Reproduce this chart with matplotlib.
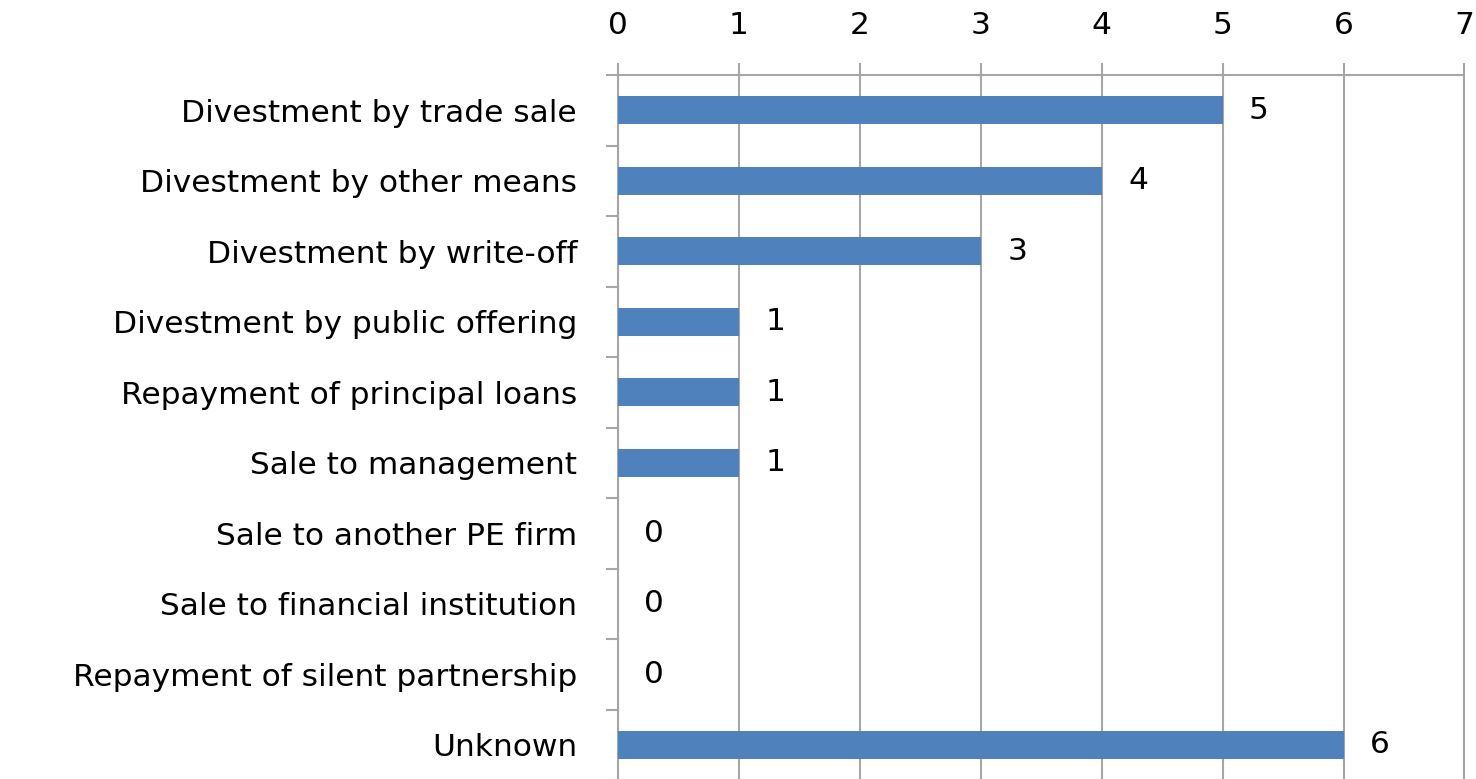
import numpy as np
import matplotlib.pyplot as plt
from matplotlib.ticker import FixedLocator

# exit routes and number of cases
categories = ["Divestment by trade sale", "Divestment by other means",
              "Divestment by write-off", "Divestment by public offering",
              "Repayment of principal loans", "Sale to management",
              "Sale to another PE firm", "Sale to financial institution",
              "Repayment of silent partnership", "Unknown"]
counts = [5, 4, 3, 1, 1, 1, 0, 0, 0, 6]
x_ticks = [0, 1, 2, 3, 4, 5, 6, 7]

bar_color = "#4F81BD"
grid_color = "#A6A6A6"
fs = 22.5

fig = plt.figure(figsize=(14.76, 7.79), dpi=100)
ax = fig.add_axes([0.4187, -0.0013, 0.5735, 0.905])

y = np.arange(len(categories))
ax.barh(y, counts, height=0.4, color=bar_color, zorder=3)

ax.set_xlim(0, 7)
ax.set_ylim(len(categories) - 0.5, -0.5)
ax.set_xticks(x_ticks)
ax.xaxis.tick_top()
ax.set_yticks(y)
ax.set_yticklabels(categories)
ax.yaxis.set_minor_locator(FixedLocator(np.arange(-0.5, len(categories), 1)))

ax.tick_params(axis="x", which="major", direction="out", length=9,
               width=1.5, color=grid_color, pad=16, labelsize=fs)
ax.tick_params(axis="y", which="major", length=0, pad=29.5, labelsize=fs)
ax.tick_params(axis="y", which="minor", direction="out", length=9,
               width=1.5, color=grid_color)

ax.grid(axis="x", color=grid_color, linewidth=1.5, zorder=0)
ax.spines["bottom"].set_visible(False)
for side in ["top", "left", "right"]:
    ax.spines[side].set_color(grid_color)
    ax.spines[side].set_linewidth(1.5)

for yi, v in zip(y, counts):
    ax.annotate(str(v), xy=(v, yi), xytext=(19, 0), textcoords="offset points",
                ha="left", va="center", fontsize=fs)

fig.savefig("out.png", dpi=100)
